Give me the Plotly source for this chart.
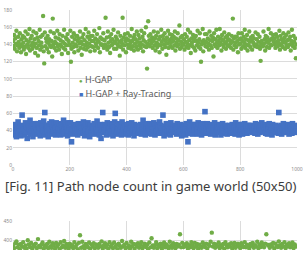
import plotly.graph_objects as go

# ---- data ----
hgap = [
144,138,151,135,147,141,156,132,139,149,143,136,153,140,131,146,138,150,142,134,
148,137,155,129,145,140,152,136,143,158,133,147,139,150,135,142,155,138,146,130,
141,153,136,148,127,144,139,157,134,149,142,137,151,173,132,118,154,138,147,143,
135,150,142,131,146,139,155,137,144,126,170,140,153,136,143,148,133,141,156,138,
147,134,152,140,145,138,129,150,143,136,157,141,134,148,139,146,152,130,144,140,
139,156,120,135,149,142,137,153,131,146,140,150,138,150,144,133,147,141,155,136,
143,128,148,140,152,135,145,139,158,134,142,149,137,154,141,146,132,150,138,144,
150,137,144,156,133,147,141,138,152,145,136,143,159,131,148,140,140,146,139,153,
136,145,140,171,138,148,134,155,142,137,149,130,144,152,139,146,141,157,135,143,
142,149,135,146,140,154,138,143,127,150,137,145,141,171,134,148,139,152,144,131,
147,140,153,136,145,139,150,142,135,158,144,138,148,133,151,141,146,137,155,143,
134,151,139,147,142,136,156,140,149,132,145,153,138,143,160,137,112,141,167,150,
145,138,152,141,145,148,136,144,155,139,147,133,150,142,137,154,140,146,131,149,
139,157,143,135,150,146,140,153,137,144,128,148,141,156,136,145,152,138,142,147,
151,136,144,149,139,155,133,147,142,138,153,145,140,162,135,148,143,137,150,141,
140,146,134,152,143,137,149,141,157,136,145,139,154,130,147,142,138,151,144,136,
148,133,150,144,139,156,142,137,146,153,135,120,140,143,158,132,145,141,152,138,
143,152,137,147,141,134,155,145,139,150,136,144,148,126,153,140,146,138,157,142,
136,149,144,139,158,142,147,133,151,140,145,137,154,141,148,135,143,150,139,146,
152,138,145,141,136,150,143,170,134,147,139,149,142,137,149,144,131,153,140,146,
141,147,135,153,144,138,149,142,157,136,146,140,151,133,145,139,155,143,137,148,
145,134,150,142,147,139,138,154,140,146,137,152,143,138,149,135,121,141,144,139,
138,155,141,146,133,150,144,137,148,142,158,136,145,140,153,139,147,146,151,143,
147,140,136,152,143,149,138,145,141,156,134,150,139,146,142,137,153,144,148,135,
142,151,139,145,137,154,146,140,149,133,144,157,141,138,150,143,136,147,124,140,
]

hgap_ray = [
38,44,41,35,47,40,33,45,42,50,37,43,39,46,34,41,58,36,44,40,
42,35,49,39,45,31,43,47,38,41,52,36,44,40,46,33,42,39,48,37,
45,40,36,48,41,47,38,43,34,49,42,37,45,40,51,35,61,39,46,42,
39,46,33,44,41,48,37,42,50,36,45,40,38,47,43,35,49,41,44,38,
43,37,48,41,35,46,40,44,39,52,36,42,47,38,45,41,34,49,40,43,
40,49,38,27,42,36,47,41,45,39,44,37,46,42,35,48,40,43,38,45,
46,39,43,37,50,41,34,45,40,47,42,36,49,39,44,33,46,41,38,43,
37,44,41,48,36,45,39,42,51,38,46,40,35,43,47,31,41,44,61,46,
42,38,47,40,44,35,49,41,37,45,43,39,48,36,42,46,34,44,40,50,
60,41,36,43,39,48,42,37,46,40,44,35,50,38,43,41,47,36,45,39,
38,46,42,35,48,40,44,37,43,49,39,45,41,34,47,42,38,46,40,44,
43,37,45,41,39,47,36,44,40,52,38,42,46,35,41,45,39,48,37,43,
40,48,39,44,36,45,42,38,49,41,35,47,43,39,46,40,44,37,50,42,
46,40,43,37,58,41,34,45,42,38,48,36,44,40,46,39,42,35,49,41,
39,44,44,42,38,46,40,43,36,48,41,45,37,44,39,47,42,34,45,40,
44,38,46,41,35,48,42,39,27,37,43,50,40,46,38,42,36,47,41,44,
41,47,39,44,42,36,49,40,45,38,43,46,35,42,48,39,44,41,62,46,
37,43,48,40,45,39,42,46,36,44,41,47,38,43,40,49,35,45,42,39,
45,40,44,38,47,42,35,43,41,48,37,44,40,46,39,42,45,36,43,41,
42,46,38,44,40,37,47,43,39,45,41,36,49,40,44,38,46,42,35,47,
39,44,41,47,36,45,42,40,48,38,43,46,37,44,41,46,39,45,40,43,
46,38,43,40,45,41,37,48,42,39,44,36,47,41,43,38,46,40,49,42,
40,45,39,43,47,37,44,41,36,46,42,48,38,45,40,43,35,47,41,44,
43,39,46,42,38,45,41,37,61,40,44,39,46,36,43,41,48,38,45,40,
41,46,38,44,40,47,36,43,39,45,42,37,48,41,44,40,46,38,43,39,
]

hgap2 = [
384,379,392,397,381,388,376,390,383,395,380,386,378,400,389,382,393,377,387,384,391,379,403,385,381,
388,394,377,386,382,390,379,396,384,380,392,387,378,393,383,389,376,395,381,386,398,380,390,384,377,
391,383,387,379,395,382,388,376,393,413,380,396,384,378,390,386,381,394,377,389,383,392,379,389,386,
380,390,384,397,378,386,392,381,388,377,395,383,389,379,394,382,387,376,391,385,380,398,384,388,379,
393,381,386,378,396,384,390,377,389,383,392,380,387,395,379,385,391,382,388,376,394,381,405,386,380,
387,395,379,388,383,391,377,386,394,381,389,384,378,396,385,380,392,387,379,390,383,388,416,381,393,
382,389,384,392,378,387,381,395,386,379,393,383,390,377,388,384,380,394,386,382,391,378,389,385,396,
420,383,391,380,388,384,394,379,387,382,390,377,395,386,381,389,383,392,378,387,393,380,385,391,384,
379,392,386,382,395,381,388,384,378,390,385,393,380,387,383,396,379,389,382,394,386,381,391,416,388,
386,380,389,384,393,378,391,385,382,397,387,380,390,383,395,379,388,384,392,381,386,394,379,389,383,
]

x_top = [i * 2 for i in range(len(hgap))]
x_bot = [i * 4 for i in range(len(hgap2))]

series_names = ["H-GAP", "H-GAP + Ray-Tracing"]
caption = "[Fig. 11] Path node count in game world (50x50)"

GREEN = "#70ad47"
BLUE = "#4472c4"
GRID = "#dcdcdc"
TICK = "#8c8c8c"

fig = go.Figure()
fig.add_trace(go.Scatter(x=x_top, y=hgap, mode="markers", name=series_names[0],
                         marker=dict(color=GREEN, size=4.4, symbol="circle"),
                         xaxis="x", yaxis="y"))
fig.add_trace(go.Scatter(x=x_top, y=hgap_ray, mode="markers", name=series_names[1],
                         marker=dict(color=BLUE, size=5.6, symbol="square"),
                         xaxis="x", yaxis="y"))
fig.add_trace(go.Scatter(x=x_bot, y=hgap2, mode="markers", name=series_names[0],
                         marker=dict(color=GREEN, size=4.4, symbol="circle"),
                         xaxis="x2", yaxis="y2"))

axis_common = dict(showgrid=True, gridcolor=GRID, gridwidth=1, zeroline=False,
                   showline=False, ticks="")
tick_font = dict(size=5, color=TICK, family="Noto Sans")

fig.update_layout(
    width=306, height=253,
    margin=dict(l=13, r=9, t=10, b=0),
    paper_bgcolor="white", plot_bgcolor="white",
    showlegend=False,
    xaxis=dict(domain=[0, 1], range=[0, 1000], dtick=200, anchor="y",
               tickfont=tick_font, **axis_common),
    yaxis=dict(domain=[0.3539, 1], range=[0, 180], dtick=20, anchor="x",
               tickfont=tick_font, **axis_common),
    xaxis2=dict(domain=[0, 1], range=[0, 1000], dtick=200, anchor="y2",
                showticklabels=False, **axis_common),
    yaxis2=dict(domain=[0, 0.1193], range=[374, 450], dtick=50, anchor="x2",
                tickfont=tick_font, **axis_common),
)

leg_font = dict(size=9, color="#5a5a5a", family="Noto Sans")
fig.add_annotation(xref="paper", yref="paper", x=0.226, y=0.709, xanchor="left", yanchor="middle",
                   text=f'<span style="color:{GREEN};font-size:6px">●</span> {series_names[0]}',
                   showarrow=False, font=leg_font)
fig.add_annotation(xref="paper", yref="paper", x=0.226, y=0.654, xanchor="left", yanchor="middle",
                   text=f'<span style="color:{BLUE};font-size:7px">■</span> {series_names[1]}',
                   showarrow=False, font=leg_font)
fig.add_annotation(xref="paper", yref="paper", x=0.486, y=0.267, xanchor="center", yanchor="middle",
                   text=caption, showarrow=False,
                   font=dict(size=13, color="#3c3c3c", family="Noto Sans"))

fig.write_html("out.html")
